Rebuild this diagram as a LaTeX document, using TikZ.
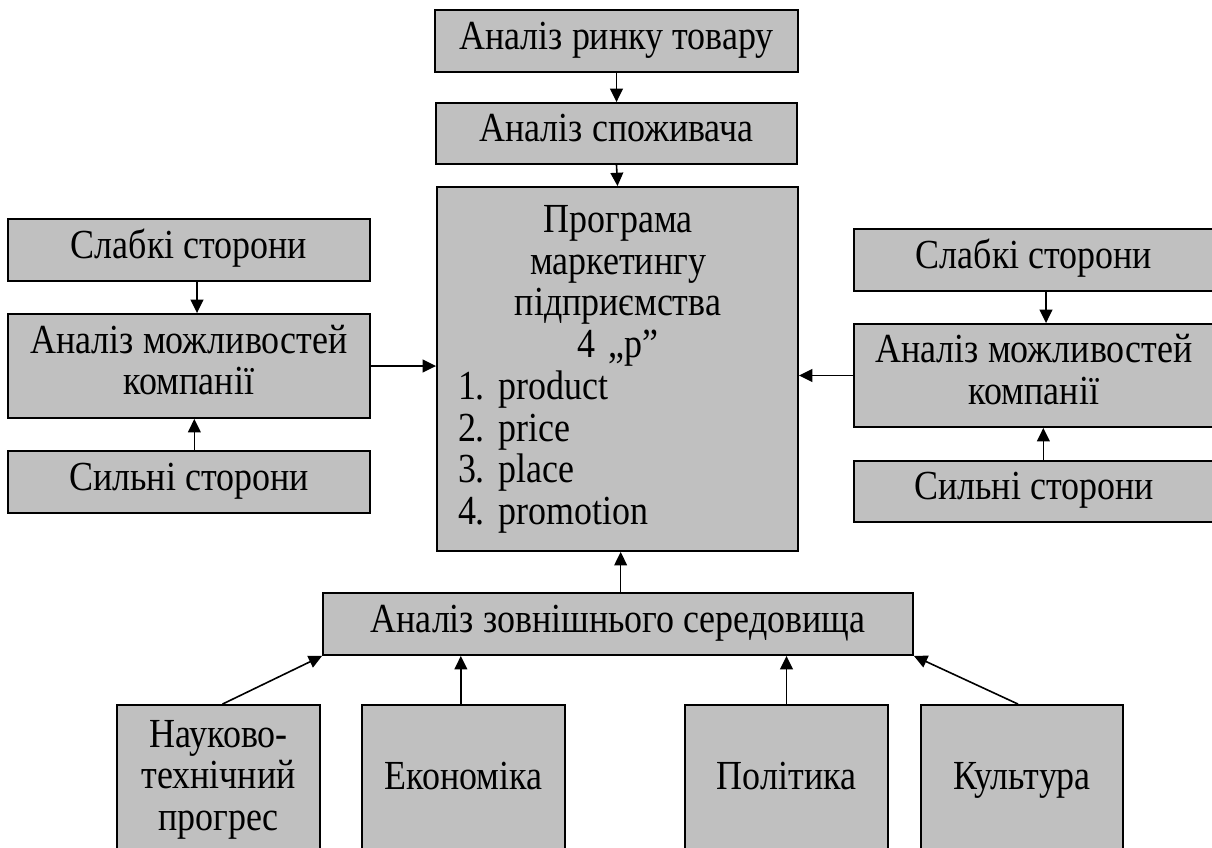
\documentclass[tikz,border=0pt]{standalone}
\usepackage{fontspec}
\setmainfont{Liberation Serif}[FakeStretch=0.87]
\usetikzlibrary{arrows.meta}
\newcommand\bx[6]{\node[box, minimum width={(#4-#2)*0.75}, minimum height={(#5-#3)*0.75}] (#1) at ({(#2+#4)/2},{(#3+#5)/2}) {#6};}
\begin{document}
\begin{tikzpicture}[x=0.75pt,y=-0.75pt,
  box/.style={draw=black, fill=boxgray, line width=1.4pt, inner sep=0pt, align=center,
    font=\fontsize{31}{31.3}\selectfont\frenchspacing,
    execute at begin node=\strut, execute at end node=\strut},
  arr/.style={line width=1.2pt, -{Triangle[length=10pt,width=9.5pt]}}]
\definecolor{boxgray}{RGB}{192,192,192}
\useasboundingbox (0,0) rectangle (1212,847);
% top
\bx{mkt}{435}{10}{798}{72}{Аналіз ринку товару}
\bx{cons}{436}{103}{797}{164}{Аналіз споживача}
\bx{prog}{437}{187}{798}{551}{}
\node[anchor=north, inner sep=0pt, text width={320*0.75}, font=\fontsize{31}{31.3}\selectfont\frenchspacing] (progtxt) at (618,205)
  {{\centering Програма\\маркетингу\\підприємства\\4 „p”\par}\raggedright 1. product\\2. price\\3. place\\4. promotion\par};
% left
\bx{lweak}{8}{219}{370}{281}{Слабкі сторони}
\bx{lcap}{8}{314}{370}{418}{Аналіз можливостей\\компанії}
\bx{lstr}{8}{451}{370}{513}{Сильні сторони}
% right
\bx{rweak}{854}{229}{1214}{291}{Слабкі сторони}
\bx{rcap}{854}{324}{1214}{427}{Аналіз можливостей\\компанії}
\bx{rstr}{854}{461}{1214}{522}{Сильні сторони}
% bottom
\bx{env}{323}{593}{913}{655}{Аналіз зовнішнього середовища}
\bx{sci}{117}{705}{320}{858}{Науково-\\технічний\\прогрес}
\bx{econ}{362}{705}{565}{858}{Економіка}
\bx{pol}{685}{705}{888}{858}{Політика}
\bx{cult}{921}{705}{1123}{858}{Культура}
% connectors
\draw[arr] (mkt.south) -- (cons.north);
\draw[arr] (cons.south) -- (prog.north);
\draw[arr] ([xshift=6pt]lweak.south) -- ([xshift=6pt]lcap.north);
\draw[arr] ([xshift=4pt]lstr.north) -- ([xshift=4pt]lcap.south);
\draw[arr] (lcap.east) -- (lcap.east -| prog.west);
\draw[arr] ([xshift=9pt]rweak.south) -- ([xshift=9pt]rcap.north);
\draw[arr] ([xshift=7pt]rstr.north) -- ([xshift=7pt]rcap.south);
\draw[arr] (rcap.west) -- (rcap.west -| prog.east);
\draw[arr] ([xshift=2pt]env.north) -- ([xshift=2pt]env.north |- prog.south);
\draw[arr] ([xshift=3pt]sci.north) -- (env.south west);
\draw[arr] ([xshift=-2pt]econ.north) -- ([xshift=-2pt]econ.north |- env.south);
\draw[arr] (pol.north) -- (pol.north |- env.south);
\draw[arr] ([xshift=-3pt]cult.north) -- (env.south east);
\end{tikzpicture}
\end{document}
